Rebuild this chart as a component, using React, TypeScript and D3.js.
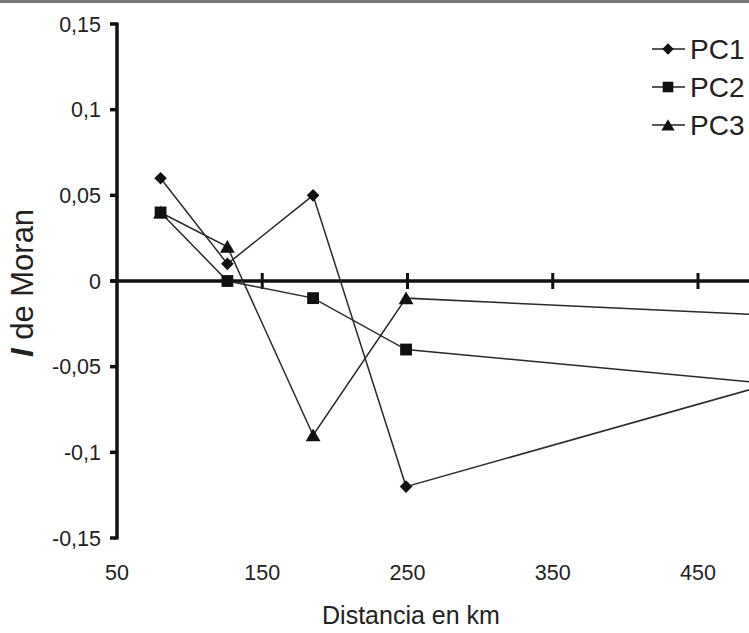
import React, { useRef, useEffect } from 'react';
import * as d3 from 'd3';

const distances = [80, 126, 185, 249, 500];
const pc1 = [0.06, 0.01, 0.05, -0.12, -0.06];
const pc2 = [0.04, 0, -0.01, -0.04, -0.06];
const pc3 = [0.04, 0.02, -0.09, -0.01, -0.02];
const seriesNames = ['PC1', 'PC2', 'PC3'];
const xTicks = [50, 150, 250, 350, 450];
const yTicks = [-0.15, -0.1, -0.05, 0, 0.05, 0.1, 0.15];

const FONT = "Arial, 'Liberation Sans', sans-serif";

const App = () => {
  const ref = useRef<SVGSVGElement | null>(null);

  useEffect(() => {
    const svg = d3.select(ref.current);
    svg.selectAll('*').remove();

    const width = 749;
    const height = 633;

    const x = d3.scaleLinear().domain([50, 450]).range([117, 698]);
    const y = d3.scaleLinear().domain([-0.15, 0.15]).range([538, 24]);
    // comma decimals, plain hyphen for negatives
    const fmt = (v: number) => (Math.abs(v) < 1e-9 ? '0' : String(+v.toFixed(2)).replace('.', ','));

    svg.append('rect').attr('width', width).attr('height', height).attr('fill', '#fff');
    // scan border at the top
    svg.append('rect').attr('x', 0).attr('y', 0).attr('width', width).attr('height', 3).attr('fill', '#777');

    // y axis
    svg.append('line')
      .attr('x1', x(50)).attr('x2', x(50))
      .attr('y1', y(0.15) - 1.5).attr('y2', y(-0.15) + 1.5)
      .attr('stroke', '#111').attr('stroke-width', 3.5);
    svg.append('g').selectAll('line').data(yTicks).join('line')
      .attr('x1', x(50) - 7).attr('x2', x(50))
      .attr('y1', d => y(d)).attr('y2', d => y(d))
      .attr('stroke', '#111').attr('stroke-width', 3.5);
    svg.append('g').selectAll('text').data(yTicks).join('text')
      .attr('x', 101).attr('y', d => y(d) + 7.5)
      .attr('text-anchor', 'end')
      .attr('font-family', FONT).attr('font-size', 21.5).attr('fill', '#222')
      .text(d => fmt(d));

    // zero line as x axis
    svg.append('line')
      .attr('x1', x(50) - 6).attr('x2', width)
      .attr('y1', y(0)).attr('y2', y(0))
      .attr('stroke', '#111').attr('stroke-width', 3.5);
    svg.append('g').selectAll('line').data(xTicks.slice(1)).join('line')
      .attr('x1', d => x(d)).attr('x2', d => x(d))
      .attr('y1', y(0) - 8).attr('y2', y(0) + 8)
      .attr('stroke', '#111').attr('stroke-width', 3);
    svg.append('g').selectAll('text').data(xTicks).join('text')
      .attr('x', d => x(d)).attr('y', 580)
      .attr('text-anchor', 'middle')
      .attr('font-family', FONT).attr('font-size', 21.5).attr('fill', '#222')
      .text(d => String(d));

    // titles
    svg.append('text')
      .attr('x', 411).attr('y', 624)
      .attr('text-anchor', 'middle')
      .attr('font-family', FONT).attr('font-size', 25).attr('fill', '#222')
      .text('Distancia en km');
    const yt = svg.append('text')
      .attr('transform', 'translate(33,283) rotate(-90)')
      .attr('text-anchor', 'middle')
      .attr('font-family', FONT).attr('font-size', 31).attr('fill', '#222');
    yt.append('tspan').attr('font-weight', 'bold').attr('font-style', 'italic').text('I');
    yt.append('tspan').text(' de Moran');

    const series = [pc1, pc2, pc3];
    const symbols = [d3.symbolSquare, d3.symbolSquare, d3.symbolTriangle];
    const sizes = [80, 140, 95];
    const rotations = [45, 0, 0];
    const dy = [0, 0, 1.8]; // centre the triangle on its box rather than its centroid

    const line = d3.line<number>()
      .x((_, i) => x(distances[i]))
      .y(d => y(d));

    const plot = svg.append('g');
    series.forEach(vals => {
      plot.append('path')
        .datum(vals)
        .attr('fill', 'none')
        .attr('stroke', '#2a2a2a')
        .attr('stroke-width', 1.5)
        .attr('d', line);
    });
    [2, 0, 1].forEach(si => {
      plot.append('g').selectAll('path').data(series[si]).join('path')
        .attr('transform', (d, i) => `translate(${x(distances[i])},${y(d) + dy[si]}) rotate(${rotations[si]})`)
        .attr('d', d3.symbol().type(symbols[si]).size(sizes[si])())
        .attr('fill', '#111');
    });

    // legend
    const leg = svg.append('g');
    seriesNames.forEach((name, i) => {
      const cy = 49 + i * 38;
      leg.append('line')
        .attr('x1', 652).attr('x2', 685).attr('y1', cy).attr('y2', cy)
        .attr('stroke', '#222').attr('stroke-width', 1.6);
      leg.append('path')
        .attr('transform', `translate(668,${cy + dy[i]}) rotate(${rotations[i]})`)
        .attr('d', d3.symbol().type(symbols[i]).size(sizes[i] * 0.8)())
        .attr('fill', '#111');
      leg.append('text')
        .attr('x', 690).attr('y', cy + 10)
        .attr('font-family', FONT).attr('font-size', 28).attr('fill', '#222')
        .text(name);
    });
  }, []);

  return (
    <div style={{ position: 'absolute', left: 0, top: 0 }}>
      <svg ref={ref} width={749} height={633} style={{ display: 'block' }}></svg>
    </div>
  );
};

export default App;
